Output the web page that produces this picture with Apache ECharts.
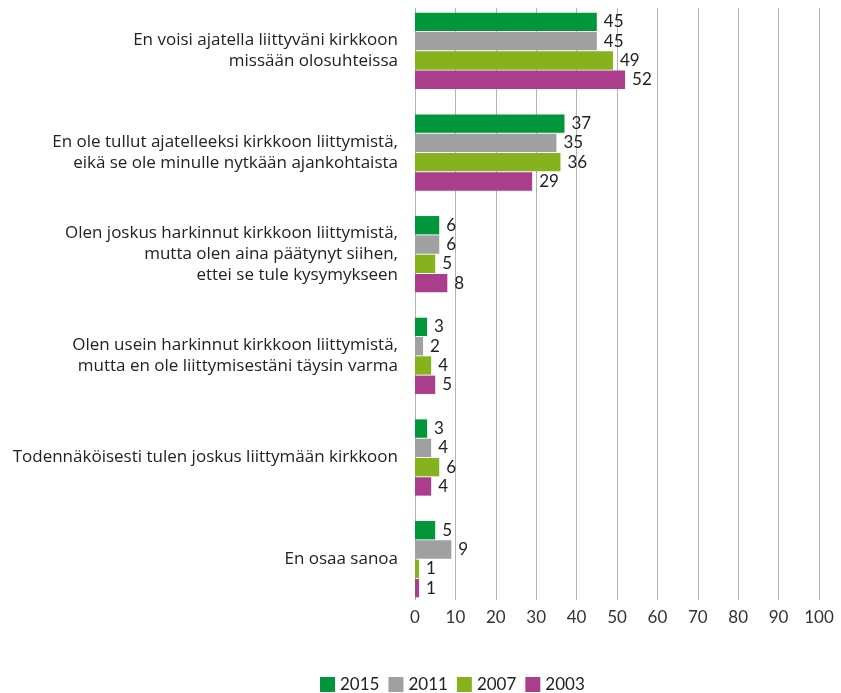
<!DOCTYPE html>
<html>
<head>
<meta charset="utf-8">
<script src="https://cdn.jsdelivr.net/npm/echarts@6/dist/echarts.min.js"></script>
<style>
  html, body { margin: 0; padding: 0; background: #fff; }
  #chart { width: 841px; height: 693px; }
</style>
</head>
<body>
<div id="chart"></div>
<script>
// kategoriat ylhäältä alas
const categories = [
  "En voisi ajatella liittyväni kirkkoon\nmissään olosuhteissa",
  "En ole tullut ajatelleeksi kirkkoon liittymistä,\neikä se ole minulle nytkään ajankohtaista",
  "Olen joskus harkinnut kirkkoon liittymistä,\nmutta olen aina päätynyt siihen,\nettei se tule kysymykseen",
  "Olen usein harkinnut kirkkoon liittymistä,\nmutta en ole liittymisestäni täysin varma",
  "Todennäköisesti tulen joskus liittymään kirkkoon",
  "En osaa sanoa"
];
const years = ["2015", "2011", "2007", "2003"];
const values2015 = [45, 37, 6, 3, 3, 5];
const values2011 = [45, 35, 6, 2, 4, 9];
const values2007 = [49, 36, 5, 4, 6, 1];
const values2003 = [52, 29, 8, 5, 4, 1];
const xTicks = [0, 100, 10]; // min, max, interval

const colors = ["#00963a", "#a0a0a0", "#86b31d", "#ab3e8c"];
const font = "Lato";
const catFont = "Open Sans";

const chart = echarts.init(document.getElementById("chart"));

const makeSeries = (name, data, color) => ({
  name: name,
  type: "bar",
  xAxisIndex: 0,
  yAxisIndex: 0,
  data: data,
  barCategoryGap: "25%",
  barGap: "5%",
  itemStyle: { color: color },
  label: {
    show: true,
    position: "right",
    distance: 7,
    color: "#222",
    fontSize: 17,
    fontFamily: font
  }
});

const option = {
  animation: false,
  color: colors,
  textStyle: { fontFamily: font },
  grid: [
    // palkit
    { left: 415, right: 22, top: -2, height: 612 },
    // ruudukko ja x-akselin numerot
    { left: 415, right: 22, top: 8, height: 592 }
  ],
  legend: {
    data: years,
    left: 315,
    top: 671,
    itemWidth: 15,
    itemHeight: 15,
    itemGap: 9,
    icon: "rect",
    textStyle: { fontSize: 17, color: "#222", fontFamily: font }
  },
  xAxis: [
    {
      gridIndex: 0,
      type: "value",
      min: xTicks[0],
      max: xTicks[1],
      interval: xTicks[2],
      show: false
    },
    {
      gridIndex: 1,
      type: "value",
      min: xTicks[0],
      max: xTicks[1],
      interval: xTicks[2],
      axisLine: { show: false },
      axisTick: { show: false },
      splitLine: { show: true, lineStyle: { color: "#b4b4b4", width: 1 } },
      axisLabel: { fontSize: 17, color: "#333", margin: 9, fontFamily: font }
    }
  ],
  yAxis: [
    {
      gridIndex: 0,
      type: "category",
      inverse: true,
      data: categories,
      axisLine: { show: false },
      axisTick: { show: false },
      axisLabel: {
        fontSize: 17,
        lineHeight: 21,
        color: "#222",
        margin: 17,
        align: "right",
        fontFamily: catFont
      }
    },
    {
      gridIndex: 1,
      type: "value",
      show: false
    }
  ],
  series: [
    makeSeries(years[0], values2015, colors[0]),
    makeSeries(years[1], values2011, colors[1]),
    makeSeries(years[2], values2007, colors[2]),
    makeSeries(years[3], values2003, colors[3])
  ]
};

chart.setOption(option);
</script>
</body>
</html>
